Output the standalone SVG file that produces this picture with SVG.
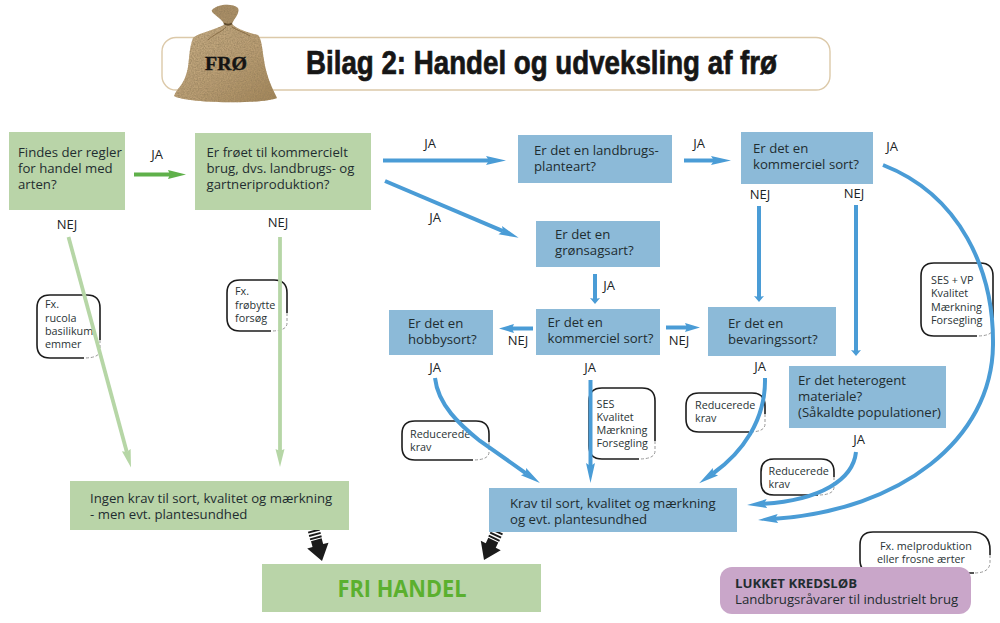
<svg xmlns="http://www.w3.org/2000/svg" width="1000" height="623" viewBox="0 0 1000 623">
<style>
text{font-family:"Open Sans","Noto Sans","Liberation Sans",sans-serif;fill:#1f2d30}
.t{font-size:13.2px}
.l{font-size:13px;fill:#1a2426}
.c{font-size:10.8px;fill:#2a3436}
.bb{fill:#8cbad8}
.gb{fill:#b9d4a8}
.co{fill:#fff;stroke:none}
.cd{fill:none;stroke:#1c1c1c;stroke-width:1.6}
.cg{fill:none;stroke:#999;stroke-width:1;stroke-dasharray:3 2}
.ab{fill:none;stroke:#4a9cd6;stroke-width:4}
.agl{fill:none;stroke:#b6d6a6;stroke-width:3.8}
.ag{fill:none;stroke:#5fb04a;stroke-width:3.8}
</style>
<defs>
<marker id="hb" markerUnits="userSpaceOnUse" markerWidth="24" markerHeight="12" refX="3" refY="6" orient="auto"><path d="M0,1.500 L20,6 L0,10.500 L3,6Z" fill="#4a9cd6"/></marker>
<marker id="hs" markerUnits="userSpaceOnUse" markerWidth="18" markerHeight="12" refX="2" refY="6" orient="auto"><path d="M0,1.500 L15,6 L0,10.500 L2,6Z" fill="#4a9cd6"/></marker>
<marker id="ht" markerUnits="userSpaceOnUse" markerWidth="10" markerHeight="12" refX="1" refY="6" orient="auto"><path d="M0,1 L6,6 L0,11 L1,6Z" fill="#4a9cd6"/></marker>
<marker id="hg" markerUnits="userSpaceOnUse" markerWidth="20" markerHeight="12" refX="2" refY="6" orient="auto"><path d="M0,1.500 L18,6 L0,10.500 L2,6Z" fill="#5fb04a"/></marker>
<marker id="hl" markerUnits="userSpaceOnUse" markerWidth="22" markerHeight="12" refX="2" refY="6" orient="auto"><path d="M0,1.500 L18,6 L0,10.500 L2,6Z" fill="#b6d6a6"/></marker>
<g id="block">
<path d="M-11,-16 L-5.500,-16 V-22 H5.500 V-16 L11,-16 L0,0Z" fill="#1b1b1b"/>
<rect x="-6" y="-25" width="12" height="2" fill="#1b1b1b"/>
<rect x="-6" y="-28.500" width="12" height="2" fill="#1b1b1b"/>
<rect x="-6" y="-32" width="12" height="2" fill="#1b1b1b"/>
</g>
<linearGradient id="sack" x1="0" y1="0" x2="1" y2="1"><stop offset="0" stop-color="#c9b088"/><stop offset=".55" stop-color="#bb9f75"/><stop offset="1" stop-color="#a38659"/></linearGradient>
<filter id="burlap" x="0" y="0" width="1" height="1"><feTurbulence type="fractalNoise" baseFrequency="0.7" numOctaves="2" seed="4" result="n"/><feColorMatrix in="n" type="matrix" values="0 0 0 0 .28  0 0 0 0 .2  0 0 0 0 .1  .9 .9 0 0 -.6" result="d"/><feComposite in="d" in2="SourceAlpha" operator="in" result="c"/><feMerge><feMergeNode in="SourceGraphic"/><feMergeNode in="c"/></feMerge></filter>
</defs>

<g id="title">
<rect x="162" y="37.500" width="668" height="52.500" rx="14" fill="#fff" stroke="#dcc9a9" stroke-width="1.400"/>
<text x="306" y="74" textLength="471" lengthAdjust="spacingAndGlyphs" style="font-family:'Liberation Sans',sans-serif;font-weight:700;font-size:33px;fill:#161616;stroke:#161616;stroke-width:.7">Bilag 2: Handel og udveksling af frø</text>
</g>
<g id="bag">
<g filter="url(#burlap)">
<path d="M226,24 C215,30 198,33 193,38 C188,50 190,65 186,75 C183,85 176,90 174,96 C185,103 260,105 277,98 C272,88 266,75 264,60 C262,48 262,40 258,35 C250,33 238,30 232,24Z" fill="url(#sack)"/>
<path d="M224,24 C222,18 210,13 212,10 C218,4 232,3 238,8 C240,14 234,18 232,24Z" fill="#ab9068"/>
</g>
<path d="M224,23.500 Q228,26 232,23.500" fill="none" stroke="#5f4a2c" stroke-width="2"/>
<path d="M226,27 C222,32 214,34 208,40 M232,27 C238,31 244,32 250,36" fill="none" stroke="#8a6f48" stroke-width="1"/>
<text x="205" y="70" textLength="42" lengthAdjust="spacingAndGlyphs" style="font-family:'Liberation Serif',serif;font-weight:700;font-size:18px;fill:#141414;stroke:#141414;stroke-width:.4">FRØ</text>
</g>

<g id="callouts">
<g id="callout-fx-rucola"><rect class="co" x="37" y="295" width="63" height="63" rx="13"/><path class="cd" d="M84,358 H50 Q37,358 37,345 V308 Q37,295 50,295 H87 Q100,295 100,308 V340"/><path class="cg" d="M100,340 V350 Q100,358 84,358"/>
<text class="c" x="45" y="308">Fx.</text><text class="c" x="45" y="321.500">rucola</text><text class="c" x="45" y="334.500">basilikum</text><text class="c" x="45" y="348">emmer</text></g>
<g id="callout-fx-frobytte"><rect class="co" x="227" y="280" width="60" height="51" rx="13"/><path class="cd" d="M271,331 H240 Q227,331 227,318 V293 Q227,280 240,280 H274 Q287,280 287,293 V313"/><path class="cg" d="M287,313 V323 Q287,331 271,331"/>
<text class="c" x="235" y="295">Fx.</text><text class="c" x="235" y="309">frøbytte</text><text class="c" x="235" y="322">forsøg</text></g>
<g id="callout-ses-vp"><rect class="co" x="921" y="263" width="72" height="73" rx="13"/><path class="cd" d="M977,336 H934 Q921,336 921,323 V276 Q921,263 934,263 H980 Q993,263 993,276 V318"/><path class="cg" d="M993,318 V328 Q993,336 977,336"/>
<text class="c" x="931" y="284">SES + VP</text><text class="c" x="931" y="297">Kvalitet</text><text class="c" x="931" y="311">Mærkning</text><text class="c" x="931" y="324">Forsegling</text></g>
<g id="callout-red-hobby"><rect class="co" x="402" y="421" width="87" height="39" rx="13"/><path class="cd" d="M473,460 H415 Q402,460 402,447 V434 Q402,421 415,421 H476 Q489,421 489,434 V442"/><path class="cg" d="M489,442 V452 Q489,460 473,460"/>
<text class="c" x="410" y="438">Reducerede</text><text class="c" x="410" y="451">krav</text></g>
<g id="callout-ses"><rect class="co" x="589" y="388" width="66" height="71" rx="13"/><path class="cd" d="M639,459 H602 Q589,459 589,446 V401 Q589,388 602,388 H642 Q655,388 655,401 V441"/><path class="cg" d="M655,441 V451 Q655,459 639,459"/>
<text class="c" x="596.500" y="408">SES</text><text class="c" x="596.500" y="421">Kvalitet</text><text class="c" x="596.500" y="434">Mærkning</text><text class="c" x="596.500" y="447">Forsegling</text></g>
<g id="callout-red-bevaring"><rect class="co" x="686" y="393" width="79" height="39" rx="13"/><path class="cd" d="M749,432 H699 Q686,432 686,419 V406 Q686,393 699,393 H752 Q765,393 765,406 V414"/><path class="cg" d="M765,414 V424 Q765,432 749,432"/>
<text class="c" x="695" y="409">Reducerede</text><text class="c" x="695" y="422">krav</text></g>
<g id="callout-red-hetero"><rect class="co" x="761" y="459" width="73" height="36" rx="13"/><path class="cd" d="M818,495 H774 Q761,495 761,482 V472 Q761,459 774,459 H821 Q834,459 834,472 V477"/><path class="cg" d="M834,477 V487 Q834,495 818,495"/>
<text class="c" x="768.500" y="475">Reducerede</text><text class="c" x="768.500" y="488">krav</text></g>
<g id="callout-melprod"><rect class="co" x="860" y="532" width="130" height="41" rx="15"/><path class="cd" d="M974,573 H873 Q860,573 860,560 V545 Q860,532 873,532 H972 Q990,532 990,550 V555"/><path class="cg" d="M990,555 V562 Q990,573 974,573"/>
<text class="c" x="880" y="550">Fx. melproduktion</text><text class="c" x="877" y="563">eller frosne ærter</text></g>
</g>

<g id="connectors">
<path class="ag" d="M134,174.500 H170" marker-end="url(#hg)"/>
<path class="agl" d="M68.500,237 L126.800,452" marker-end="url(#hl)"/>
<path class="agl" d="M280,237 V451" marker-end="url(#hl)"/>
<path class="ab" d="M383,160.500 H489" marker-end="url(#hb)"/>
<path class="ab" d="M385,181 L503,231.200" marker-end="url(#hb)"/>
<path class="ab" d="M684,160.500 H714" marker-end="url(#hb)"/>
<path class="ab" d="M595,274 V299" marker-end="url(#ht)"/>
<path class="ab" d="M533,328.500 H512" marker-end="url(#hs)"/>
<path class="ab" d="M666,327.500 H687" marker-end="url(#hs)"/>
<path class="ab" d="M759,206 V297" marker-end="url(#ht)"/>
<path class="ab" d="M856,205 V351" marker-end="url(#ht)"/>
<path class="ab" d="M883,165 C960,195 994,270 993,345 C992,440 900,510 775,518.800" marker-end="url(#hb)"/>
<path class="ab" d="M435,378 C438,405 460,425 480,441 L526,473.300" marker-end="url(#hb)"/>
<path class="ab" d="M590.500,380 V466" marker-end="url(#hb)"/>
<path class="ab" d="M765,378 C766,420 742,453 713,473.500" marker-end="url(#hb)"/>
<path class="ab" d="M856,452 C853,480 820,500 764,503.800" marker-end="url(#hb)"/>
<use href="#block" transform="translate(322,561) rotate(-15)"/>
<use href="#block" transform="translate(484,560) rotate(25)"/>
</g>

<g id="labels">
<text class="l" x="157" y="159" text-anchor="middle">JA</text>
<text class="l" x="67" y="229" text-anchor="middle">NEJ</text>
<text class="l" x="278" y="227" text-anchor="middle">NEJ</text>
<text class="l" x="430" y="148" text-anchor="middle">JA</text>
<text class="l" x="435" y="221.500" text-anchor="middle">JA</text>
<text class="l" x="609" y="290" text-anchor="middle">JA</text>
<text class="l" x="518" y="345" text-anchor="middle">NEJ</text>
<text class="l" x="679" y="345" text-anchor="middle">NEJ</text>
<text class="l" x="435" y="372" text-anchor="middle">JA</text>
<text class="l" x="590" y="372" text-anchor="middle">JA</text>
<text class="l" x="760" y="371" text-anchor="middle">JA</text>
<text class="l" x="699" y="148" text-anchor="middle">JA</text>
<text class="l" x="892" y="151" text-anchor="middle">JA</text>
<text class="l" x="760" y="198.500" text-anchor="middle">NEJ</text>
<text class="l" x="854" y="198" text-anchor="middle">NEJ</text>
<text class="l" x="859" y="444" text-anchor="middle">JA</text>
</g>

<g id="n1"><rect class="gb" x="9" y="132" width="116" height="78"/><text class="t" x="18" y="156.500">Findes der regler</text><text class="t" x="18" y="172.500">for handel med</text><text class="t" x="18" y="188.500">arten?</text></g>
<g id="n2"><rect class="gb" x="195" y="133" width="176" height="77"/><text class="t" x="206.500" y="157">Er frøet til kommercielt</text><text class="t" x="206.500" y="173">brug, dvs. landbrugs- og</text><text class="t" x="206.500" y="189">gartneriproduktion?</text></g>
<g id="n3"><rect class="bb" x="518" y="135" width="154" height="48"/><text class="t" x="534" y="154.500">Er det en landbrugs-</text><text class="t" x="534" y="170.500">planteart?</text></g>
<g id="n4"><rect class="bb" x="741" y="132" width="132" height="52"/><text class="t" x="753" y="153">Er det en</text><text class="t" x="753" y="169">kommerciel sort?</text></g>
<g id="n5"><rect class="bb" x="536" y="221" width="124" height="46"/><text class="t" x="555" y="239">Er det en</text><text class="t" x="555" y="255">grønsagsart?</text></g>
<g id="n6"><rect class="bb" x="536" y="309" width="124" height="46"/><text class="t" x="547.500" y="327">Er det en</text><text class="t" x="547.500" y="343">kommerciel sort?</text></g>
<g id="n7"><rect class="bb" x="389" y="310" width="104" height="45"/><text class="t" x="408" y="328">Er det en</text><text class="t" x="408" y="344">hobbysort?</text></g>
<g id="n8"><rect class="bb" x="708" y="307" width="128" height="49"/><text class="t" x="728" y="328">Er det en</text><text class="t" x="728" y="344">bevaringssort?</text></g>
<g id="n9"><rect class="bb" x="789" y="366" width="157" height="62"/><text class="t" x="798" y="384.500">Er det heterogent</text><text class="t" x="798" y="400.500">materiale?</text><text class="t" x="798" y="416.500" textLength="143">(Såkaldte populationer)</text></g>
<g id="n10"><rect class="bb" x="489" y="488" width="248" height="44"/><text class="t" x="510" y="507.500">Krav til sort, kvalitet og mærkning</text><text class="t" x="510" y="523.500">og evt. plantesundhed</text></g>
<g id="n11"><rect class="gb" x="70" y="481" width="279" height="49"/><text class="t" x="90" y="502.500">Ingen krav til sort, kvalitet og mærkning</text><text class="t" x="90" y="518.500">- men evt. plantesundhed</text></g>
<g id="n12"><rect class="gb" x="262" y="564" width="279" height="48"/><text x="402" y="597" text-anchor="middle" textLength="129" lengthAdjust="spacingAndGlyphs" style="font-size:24px;font-weight:700;fill:#5bb02f">FRI HANDEL</text></g>
<g id="n13"><rect x="720" y="567" width="251" height="47" rx="12" fill="#c9a6c9"/><text x="735" y="588" style="font-size:13.2px;font-weight:700">LUKKET KREDSLØB</text><text class="t" x="735" y="604">Landbrugsråvarer til industrielt brug</text></g>
</svg>
